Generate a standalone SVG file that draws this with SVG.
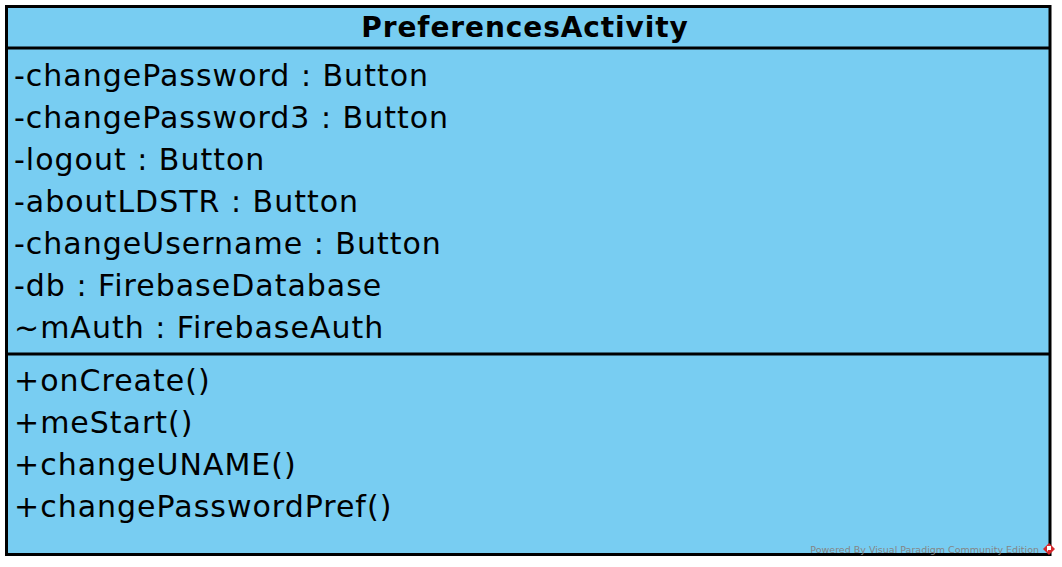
<svg xmlns="http://www.w3.org/2000/svg" width="1062" height="567" viewBox="0 0 1062 567">
  <style>
    .box { fill: #78cdf2; stroke: #000; stroke-width: 3; }
    .sep { stroke: #000; stroke-width: 3; }
    .title { font-family: "DejaVu Sans", sans-serif; font-size: 28px; font-weight: bold; letter-spacing: 0.9px; fill: #000; }
    .member { font-family: "DejaVu Sans", sans-serif; font-size: 30px; letter-spacing: 1px; fill: #000; }
    .credit { font-family: "DejaVu Sans", sans-serif; font-size: 9.5px; fill: #858585; }
  </style>
  <rect width="1062" height="567" fill="#fff"/>
  <g id="PreferencesActivity">
    <rect class="box" x="6.5" y="6.5" width="1043.5" height="548"/>
    <line class="sep" x1="6.5" y1="48" x2="1050" y2="48"/>
    <line class="sep" x1="6.5" y1="354" x2="1050" y2="354"/>
    <text class="title" x="525" y="37" text-anchor="middle">PreferencesActivity</text>
    <g class="member">
      <text x="14" y="86">-changePassword : Button</text>
      <text x="14" y="128">-changePassword3 : Button</text>
      <text x="14" y="170">-logout : Button</text>
      <text x="14" y="212">-aboutLDSTR : Button</text>
      <text x="14" y="254">-changeUsername : Button</text>
      <text x="14" y="296">-db : FirebaseDatabase</text>
      <text x="14" y="338">~mAuth : FirebaseAuth</text>
      <text x="14" y="391">+onCreate()</text>
      <text x="14" y="433">+meStart()</text>
      <text x="14" y="475">+changeUNAME()</text>
      <text x="14" y="517">+changePasswordPref()</text>
    </g>
  </g>
  <g id="credit">
    <text class="credit" x="1039" y="553" text-anchor="end">Powered By Visual Paradigm Community Edition</text>
    <path d="M1049 543 L1055 549 L1049 555 L1043 549 Z" fill="#d8282c"/>
    <path d="M1047 546 L1051 546 L1051 550 L1048 550 L1047 552 Z" fill="#fff"/>
  </g>
  <g id="connectors"/>
</svg>
